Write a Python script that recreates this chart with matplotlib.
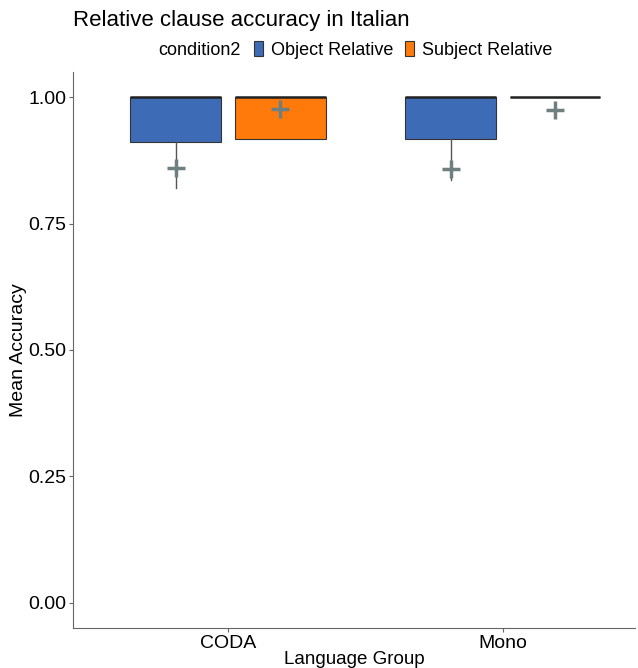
import matplotlib
matplotlib.use("Agg")
import matplotlib.pyplot as plt
from matplotlib.patches import Patch

plt.rcParams["font.family"] = ["Liberation Sans", "DejaVu Sans"]

## Data ##

groups = ["CODA", "Mono"]
conditions = ["Object Relative", "Subject Relative"]
colors = ["#3E6BB6", "#FF7A0A"]

# per group, per condition
q1 = [[0.911, 0.917], [0.917, 1.0]]
q3 = [[1.0, 1.0], [1.0, 1.0]]
medians = [[1.0, 1.0], [1.0, 1.0]]
whislo = [[0.82, 0.917], [0.836, 1.0]]
whishi = [[1.0, 1.0], [1.0, 1.0]]
means = [[0.86, 0.976], [0.858, 0.975]]

y_ticks = [0.00, 0.25, 0.50, 0.75, 1.00]

####

fig = plt.figure(figsize=(6.38, 6.68), dpi=100)
ax = fig.add_axes([0.1144, 0.0599, 0.8806, 0.8323])

offset = 0.19
box_w = 0.33
mean_color = "#6E7F80"

for gi, g in enumerate(groups):
    for ci, c in enumerate(conditions):
        pos = gi + 1 + (ci - 0.5) * 2 * offset
        stats = [{
            "med": medians[gi][ci], "q1": q1[gi][ci], "q3": q3[gi][ci],
            "whislo": whislo[gi][ci], "whishi": whishi[gi][ci], "fliers": [],
        }]
        ax.bxp(stats, positions=[pos], widths=box_w, patch_artist=True,
               showcaps=False, showfliers=False,
               boxprops=dict(facecolor=colors[ci], edgecolor="#333333", linewidth=0.8),
               whiskerprops=dict(color="#555555", linewidth=1.0),
               medianprops=dict(color="#222222", linewidth=1.8))
        ax.plot(pos, means[gi][ci], marker="+", color=mean_color,
                markersize=13, markeredgewidth=2.5, zorder=5)

ax.set_xlim(0.436, 2.48)
ax.set_ylim(-0.05, 1.05)
ax.set_xticks([1, 2])
ax.set_xticklabels(groups, fontsize=14)
ax.set_yticks(y_ticks)
ax.set_yticklabels(["%.2f" % t for t in y_ticks], fontsize=14)
ax.set_xlabel("Language Group", fontsize=13.5, labelpad=-1)
ax.set_ylabel("Mean Accuracy", fontsize=14, labelpad=1)

for side in ("top", "right"):
    ax.spines[side].set_visible(False)
for side in ("left", "bottom"):
    ax.spines[side].set_color("#666666")
ax.tick_params(colors="#666666", length=3, pad=2, labelcolor="black")

fig.text(0.1144, 0.97, "Relative clause accuracy in Italian", fontsize=16, va="center")
fig.text(0.248, 0.925, "condition2", fontsize=13, va="center")

handles = [Patch(facecolor=col, edgecolor="#333333", linewidth=0.8) for col in colors]
fig.legend(handles, conditions, loc="center left", bbox_to_anchor=(0.398, 0.925),
           ncol=2, frameon=False, fontsize=13, handlelength=0.5, handleheight=0.9,
           handletextpad=0.45, columnspacing=0.65, borderpad=0, borderaxespad=0)

fig.savefig("out.png", dpi=100)
